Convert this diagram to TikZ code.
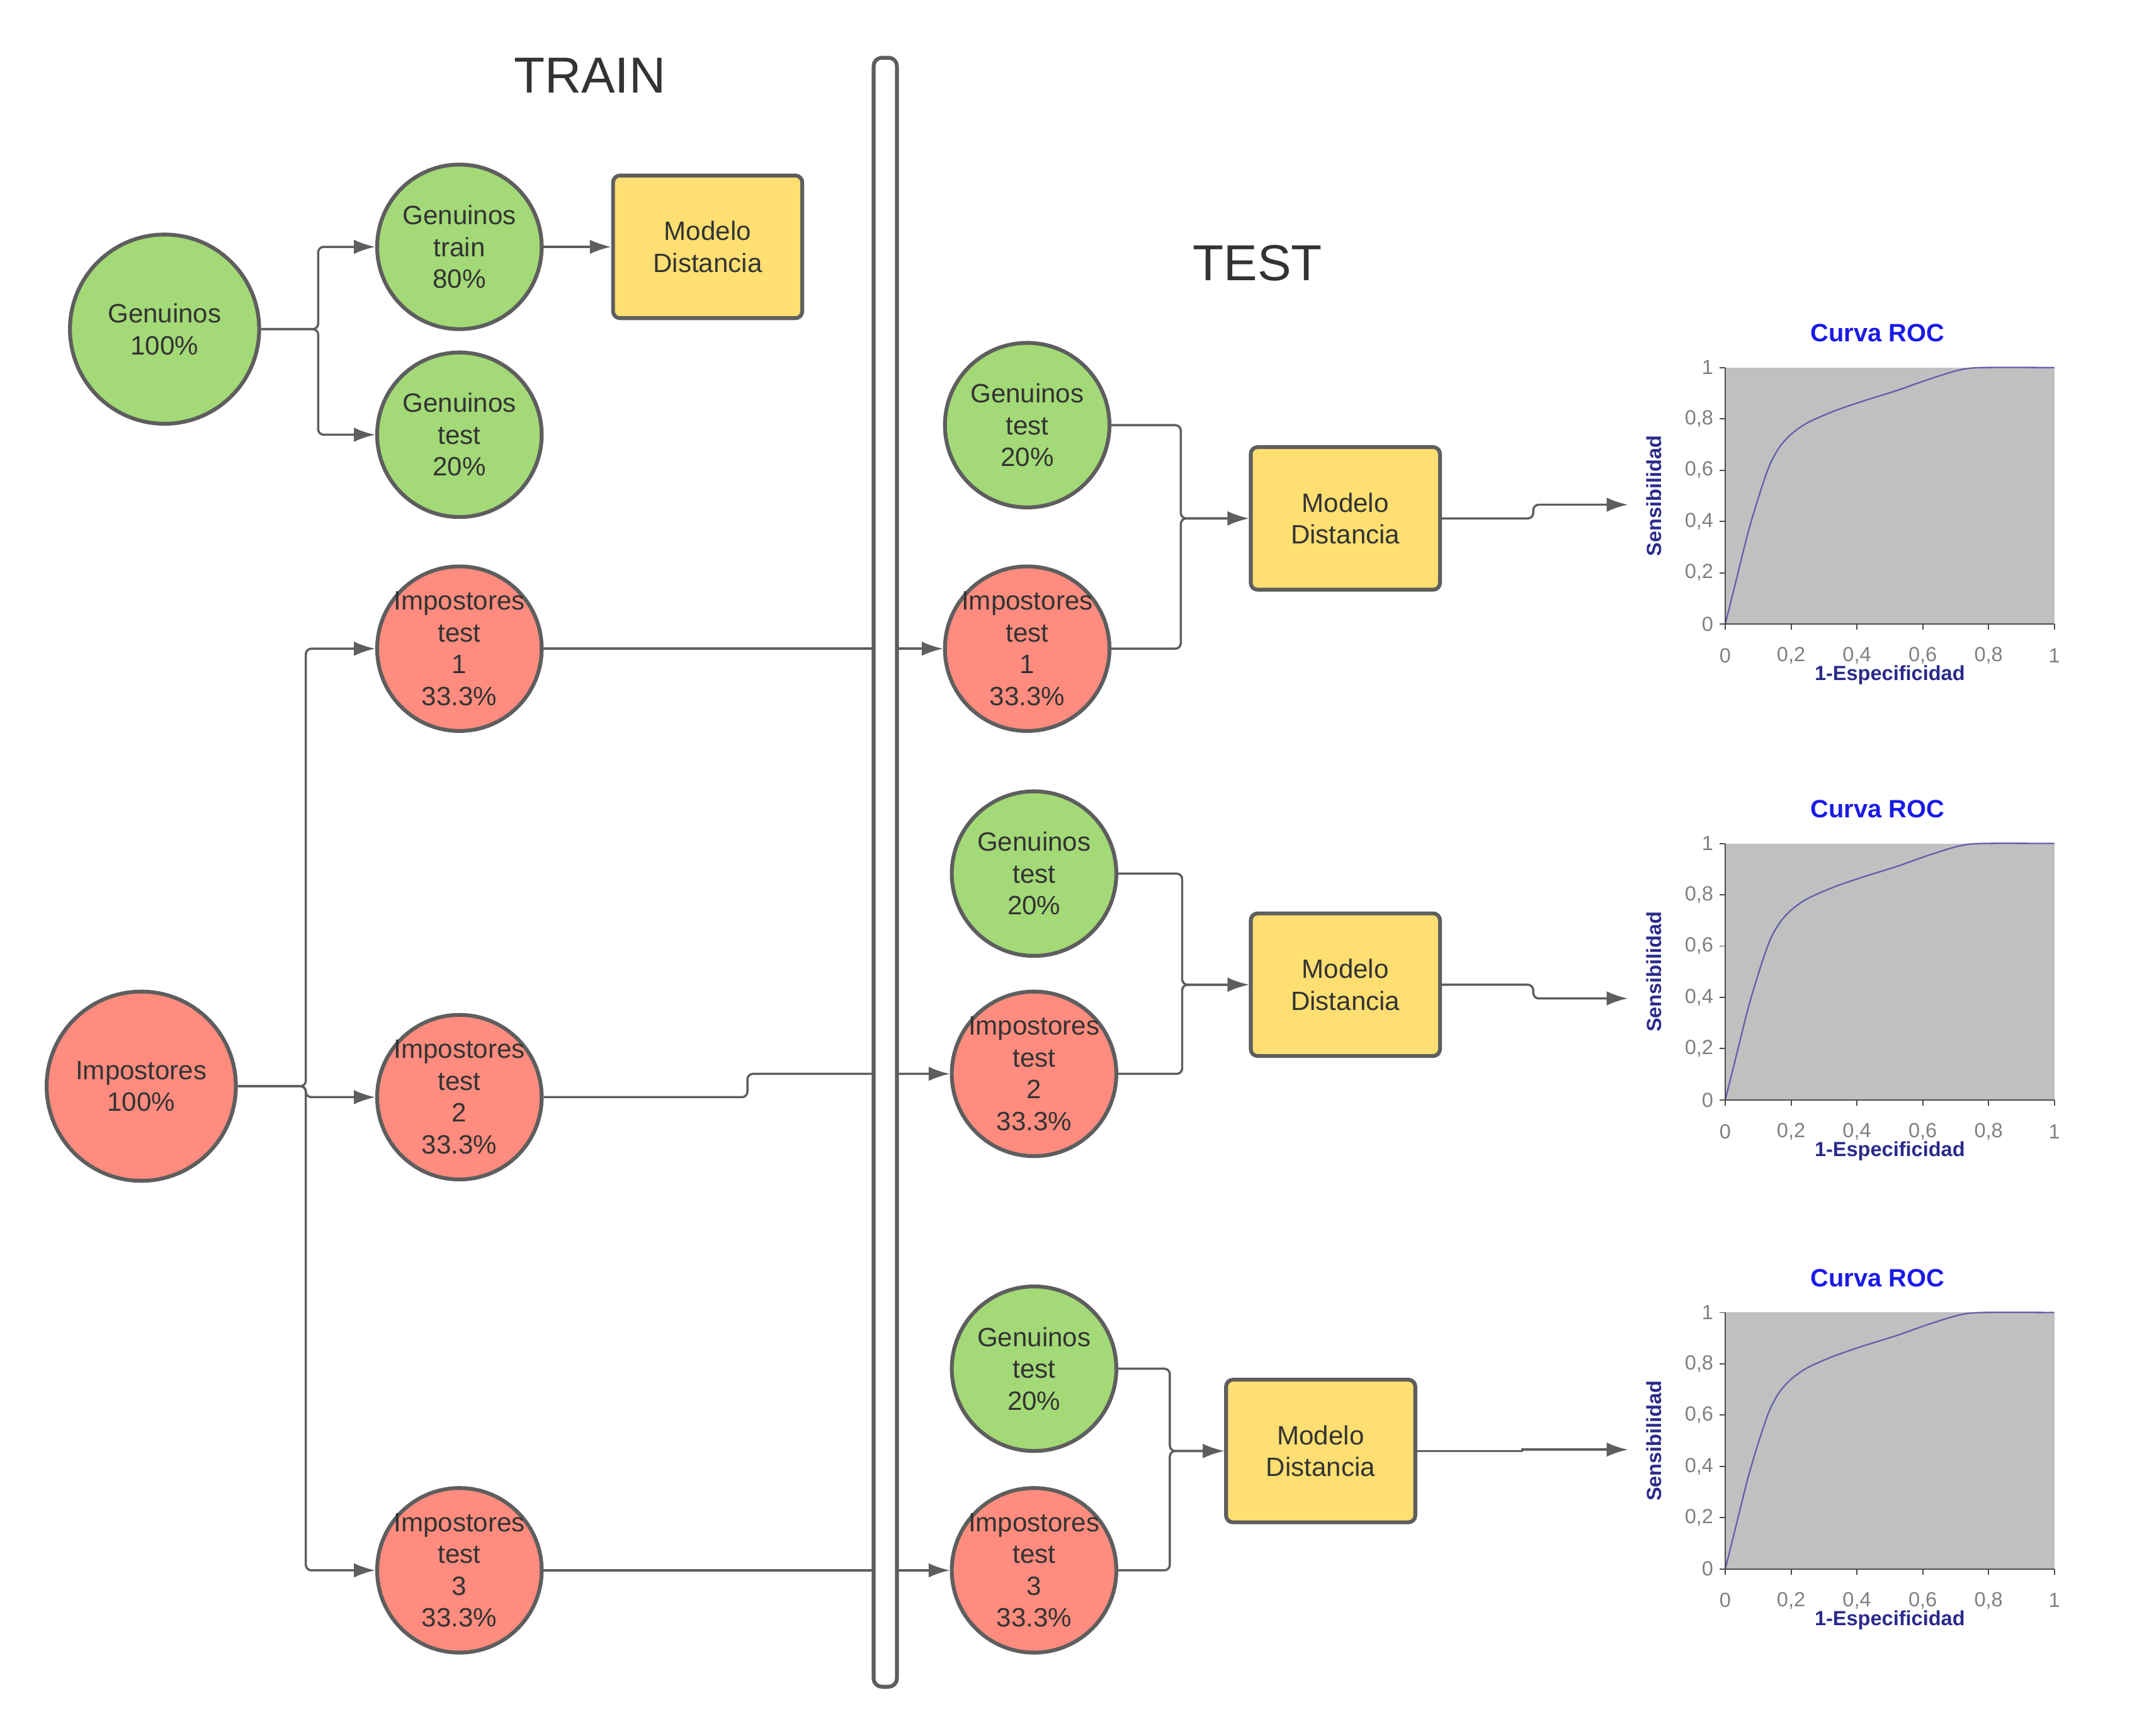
\documentclass[tikz,border=0pt]{standalone}
\usepackage{fontspec}
\setmainfont{Liberation Sans}
\usetikzlibrary{arrows.meta}
\definecolor{verde}{HTML}{A3D977}
\definecolor{rojo}{HTML}{FF8C7E}
\definecolor{amarillo}{HTML}{FFDF71}
\definecolor{borde}{HTML}{5E5E5E}
\definecolor{texto}{HTML}{333333}
\definecolor{rocgris}{HTML}{C0C0C0}
\definecolor{rocazul}{HTML}{1A1AE6}
\definecolor{rocnavy}{HTML}{2A2A8A}
\definecolor{roclinea}{HTML}{6060A8}
\definecolor{rocnum}{HTML}{808080}
\tikzset{
	conjunto/.style={circle, draw=borde, line width=1.6pt, minimum size=2.4cm, inner sep=-0.6cm, align=center, text=texto, font=\fontsize{11}{13.2}\selectfont},
	grande/.style={conjunto, minimum size=2.76cm},
	modelo/.style={rectangle, rounded corners=0.1cm, draw=borde, line width=1.6pt, fill=amarillo, minimum width=2.76cm, minimum height=2.08cm, align=center, text=texto, font=\fontsize{11}{13.2}\selectfont},
	flecha/.style={draw=borde, line width=0.9pt, rounded corners=0.08cm, -{Latex[length=3.1mm,width=2.1mm]}},
	titulo/.style={text=texto, font=\fontsize{21}{25}\selectfont},
	numero/.style={text=rocnum, font=\fontsize{8.5}{10}\selectfont},
	eje/.style={text=rocnavy, font=\bfseries\fontsize{8.5}{10}\selectfont}
}
\begin{document}
\begin{tikzpicture}[x=0.02cm, y=-0.02cm]
	\useasboundingbox (0,0) rectangle (1567,1265.4);
	\node[titulo] (train) at (430,55) {TRAIN};
	\node[titulo] (test) at (917,192) {TEST};
	% entrenamiento
	\node[grande, fill=verde] (gen) at (120,240) {Genuinos\\100\%};
	\node[grande, fill=rojo] (imp) at (103,792) {Impostores\\100\%};
	\node[conjunto, fill=verde] (gtrain) at (335,180) {Genuinos\\train\\80\%};
	\node[conjunto, fill=verde] (gtest) at (335,317) {Genuinos\\test\\20\%};
	\node[modelo] (model0) at (516,180) {Modelo\\Distancia};
	\node[conjunto, fill=rojo] (itr1) at (335,473) {Impostores\\test\\1\\33.3\%};
	\node[conjunto, fill=rojo] (itr2) at (335,800) {Impostores\\test\\2\\33.3\%};
	\node[conjunto, fill=rojo] (itr3) at (335,1145) {Impostores\\test\\3\\33.3\%};
	% test
	\node[conjunto, fill=verde] (gt1) at (749,310) {Genuinos\\test\\20\%};
	\node[conjunto, fill=rojo] (it1) at (749,473) {Impostores\\test\\1\\33.3\%};
	\node[modelo] (mod1) at (981,378) {Modelo\\Distancia};
	\node[conjunto, fill=verde] (gt2) at (754,637) {Genuinos\\test\\20\%};
	\node[conjunto, fill=rojo] (it2) at (754,783) {Impostores\\test\\2\\33.3\%};
	\node[modelo] (mod2) at (981,718) {Modelo\\Distancia};
	\node[conjunto, fill=verde] (gt3) at (754,998) {Genuinos\\test\\20\%};
	\node[conjunto, fill=rojo] (it3) at (754,1145) {Impostores\\test\\3\\33.3\%};
	\node[modelo] (mod3) at (963,1058) {Modelo\\Distancia};
	\coordinate (roc1) at (1187,368);
	\coordinate (roc2) at (1187,728);
	\coordinate (roc3) at (1187,1057);
	% conexiones
	\draw[flecha] (gen.east) -- (232,240) |- (gtrain.west);
	\draw[flecha] (gen.east) -- (232,240) |- (gtest.west);
	\draw[flecha] (gtrain.east) -- (model0.west);
	\draw[flecha] (imp.east) -- (223,792) |- (itr1.west);
	\draw[flecha] (imp.east) -- (223,792) |- (itr2.west);
	\draw[flecha] (imp.east) -- (223,792) |- (itr3.west);
	\draw[flecha] (itr1.east) -- (it1.west);
	\draw[flecha] (itr2.east) -- (545,800) |- (it2.west);
	\draw[flecha] (itr3.east) -- (it3.west);
	\draw[flecha] (gt1.east) -- (861,310) |- (mod1.west);
	\draw[flecha] (it1.east) -- (861,473) |- (mod1.west);
	\draw[flecha] (gt2.east) -- (862,637) |- (mod2.west);
	\draw[flecha] (it2.east) -- (862,783) |- (mod2.west);
	\draw[flecha] (gt3.east) -- (853,998) |- (mod3.west);
	\draw[flecha] (it3.east) -- (853,1145) |- (mod3.west);
	\draw[flecha] (mod1.east) -- (1118,378) |- (roc1);
	\draw[flecha] (mod2.east) -- (1118,718) |- (roc2);
	\draw[flecha, sharp corners] (mod3.east) -- (1110,1058) |- (roc3);
	% separador
	\node[draw=borde, line width=1.6pt, fill=white, rounded corners=0.12cm, minimum width=0.34cm, minimum height=23.76cm, inner sep=0pt] (barrera) at (645.5,636) {};
	% curvas ROC
	\foreach \t/\k in {268/1,615/2,957/3}{
		\begin{scope}[shift={(1258,\t+187)}, x=4.8cm, y=3.74cm]
			\fill[rocgris] (0,0) rectangle (1,1);
			\draw[roclinea, line width=0.6pt] plot[smooth, tension=0.5] coordinates {(0,0) (0.035,0.18) (0.07,0.36) (0.105,0.51) (0.135,0.62) (0.165,0.69) (0.2,0.74) (0.25,0.785) (0.33,0.83) (0.42,0.87) (0.52,0.91) (0.62,0.955) (0.71,0.99) (0.78,1) (1,1)};
			\draw[black!70, line width=0.5pt] (0,1) -- (0,0) -- (1,0);
			\foreach \v/\l in {0/0,0.2/{0,2},0.4/{0,4},0.6/{0,6},0.8/{0,8},1/1}{
				\draw[black!70, line width=0.5pt] (0,\v) -- (-0.018,\v);
				\draw[black!70, line width=0.5pt] (\v,0) -- (\v,-0.022);
				\node[numero, anchor=east, inner sep=0pt] at (-0.035,\v) {\l};
				\node[numero] at (\v,-0.123) {\l};
			}
			\node[text=rocazul, font=\bfseries\fontsize{10.4}{12}\selectfont] (curva\k) at (0.4625,1.134) {Curva ROC};
			\node[eje] (espec\k) at (0.5,-0.2) {1-Especificidad};
			\node[eje, rotate=90] (sens\k) at (-0.217,0.5) {Sensibilidad};
		\end{scope}
	}
\end{tikzpicture}
\end{document}
